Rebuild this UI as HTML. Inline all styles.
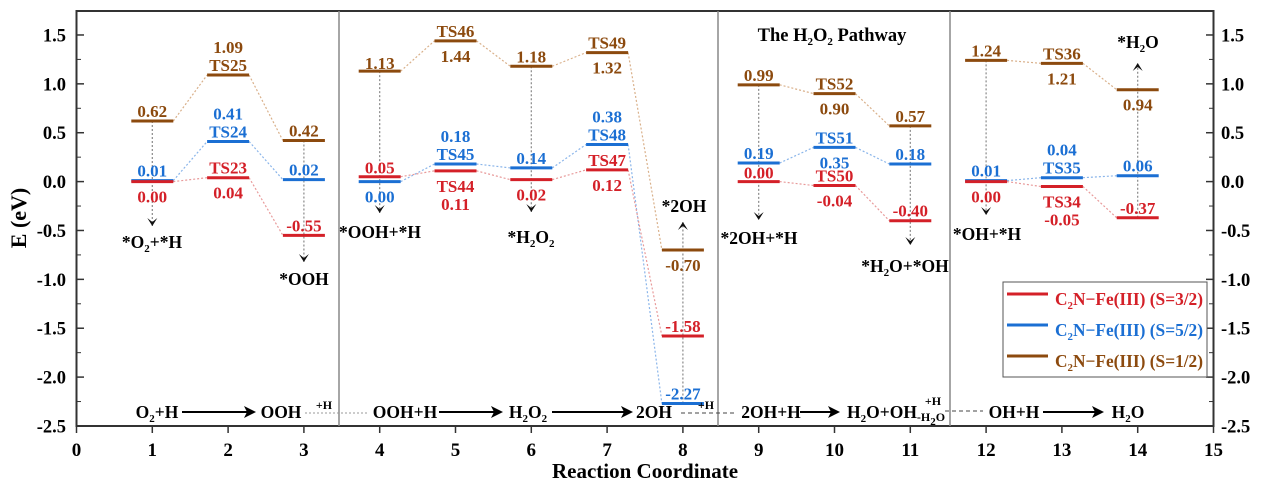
<!DOCTYPE html>
<html><head><meta charset="utf-8"><style>
html,body{margin:0;padding:0;background:#fff;width:1269px;height:490px;overflow:hidden}
svg{display:block;font-family:"Liberation Serif",serif;font-weight:bold}
</style></head><body>
<svg id="s" width="1269" height="490" xmlns="http://www.w3.org/2000/svg"></svg>
<script>
const S=document.getElementById('s');
let h='';
const X=c=>76.5+75.8*c, Y=v=>181.6-97.75*v;
const R='#d42028',B='#1b6fd3',N='#8c4a0e';
h+=`<rect x="76.5" y="11" width="1137" height="415" fill="none" stroke="#333" stroke-width="2"/>`;
[339,718,950].forEach(x=>h+=`<line x1="${x}" y1="11" x2="${x}" y2="426" stroke="#888" stroke-width="1.5"/>`);
for(let c=0;c<=15;c++){h+=`<line x1="${X(c)}" y1="426" x2="${X(c)}" y2="433" stroke="#333" stroke-width="1.5"/><text x="${X(c)}" y="456" font-size="19" text-anchor="middle">${c}</text>`;}
for(let i=0;i<=8;i++){const v=-2.5+0.5*i,y=Y(v);const t=(v<0?'-':'')+Math.abs(v).toFixed(1);
h+=`<line x1="76.5" y1="${y}" x2="84" y2="${y}" stroke="#333" stroke-width="1.5"/><line x1="1206" y1="${y}" x2="1213.5" y2="${y}" stroke="#333" stroke-width="1.5"/>`;
h+=`<text x="66" y="${y+6.5}" font-size="18.5" text-anchor="end">${t}</text><text x="1221" y="${y+6.5}" font-size="18.5">${t}</text>`;
if(i<8){const y2=Y(v+0.25);h+=`<line x1="76.5" y1="${y2}" x2="81" y2="${y2}" stroke="#333"/><line x1="1209" y1="${y2}" x2="1213.5" y2="${y2}" stroke="#333"/>`;}}
h+=`<text x="645" y="478" font-size="21" text-anchor="middle">Reaction Coordinate</text>`;
h+=`<text transform="translate(26,218) rotate(-90)" font-size="22" text-anchor="middle">E (eV)</text>`;
const data={
[R]:[0,0.04,-0.55,0.05,0.11,0.02,0.12,-1.58,0,-0.04,-0.40,0,-0.05,-0.37],
[B]:[0.01,0.41,0.02,0,0.18,0.14,0.38,-2.27,0.19,0.35,0.18,0.01,0.04,0.06],
[N]:[0.62,1.09,0.42,1.13,1.44,1.18,1.32,-0.70,0.99,0.90,0.57,1.24,1.21,0.94]};
const groups=[[1,3],[4,8],[9,11],[12,14]];
const lc={[R]:'#e89a9a',[B]:'#8ab5ea',[N]:'#d9b08a'};
for(const col of [N,B,R]){const d=data[col];
groups.forEach(([a,b])=>{for(let c=a;c<b;c++){h+=`<line x1="${X(c)+21}" y1="${Y(d[c-1])}" x2="${X(c+1)-21}" y2="${Y(d[c])}" stroke="${lc[col]}" stroke-width="1.2" stroke-dasharray="2,2"/>`;}});}
function va(c,y1,y2,dir){h+=`<line x1="${X(c)}" y1="${y1}" x2="${X(c)}" y2="${y2}" stroke="#888" stroke-width="1.2" stroke-dasharray="2,2"/>`;
const x=X(c);if(dir>0)h+=`<path d="M${x-5} ${y2-8} L${x} ${y2} L${x+5} ${y2-8} L${x} ${y2-4}Z" fill="#111"/>`;else h+=`<path d="M${x-5} ${y2+8} L${x} ${y2} L${x+5} ${y2+8} L${x} ${y2+4}Z" fill="#111"/>`;}
va(1,Y(0.62),226,1);va(3,Y(0.42),262,1);va(4,Y(1.13),213,1);va(6,Y(1.18),212,1);va(8,Y(-2.27),222,-1);
va(9,Y(0.99),220,1);va(11,Y(0.57),245,1);va(12,Y(1.24),215,1);va(14,Y(-0.37),63,-1);
for(const col of [N,B,R]){data[col].forEach((v,i)=>{const x=X(i+1);h+=`<line x1="${x-21}" y1="${Y(v)}" x2="${x+21}" y2="${Y(v)}" stroke="${col}" stroke-width="3"/>`;});}
const A=-4,Bw=21,A2=-22,B2=39;
const L=[
[1,N,'0.62',A],[1,B,'0.01',A],[1,R,'0.00',Bw],
[2,N,'1.09',A2],[2,N,'TS25',A],[2,B,'0.41',A2],[2,B,'TS24',A],[2,R,'TS23',A],[2,R,'0.04',Bw],
[3,N,'0.42',A],[3,B,'0.02',A],[3,R,'-0.55',A],
[4,N,'1.13',-2],[4,R,'0.05',-3],[4,B,'0.00',Bw],
[5,N,'TS46',A],[5,N,'1.44',Bw],[5,B,'0.18',A2],[5,B,'TS45',A],[5,R,'TS44',Bw],[5,R,'0.11',B2],
[6,N,'1.18',A],[6,B,'0.14',A],[6,R,'0.02',Bw],
[7,N,'TS49',A],[7,N,'1.32',Bw],[7,B,'0.38',A2],[7,B,'TS48',A],[7,R,'TS47',A],[7,R,'0.12',Bw],
[8,N,'-0.70',Bw],[8,R,'-1.58',A],[8,B,'-2.27',A],
[9,N,'0.99',A],[9,B,'0.19',A],[9,R,'0.00',-3],
[10,N,'TS52',A],[10,N,'0.90',Bw],[10,B,'TS51',A],[10,B,'0.35',Bw],[10,R,'TS50',A],[10,R,'-0.04',Bw],
[11,N,'0.57',A],[11,B,'0.18',A],[11,R,'-0.40',A],
[12,N,'1.24',A],[12,B,'0.01',A],[12,R,'0.00',Bw],
[13,N,'TS36',A],[13,N,'1.21',Bw],[13,B,'0.04',A2],[13,B,'TS35',A],[13,R,'TS34',Bw],[13,R,'-0.05',B2],
[14,N,'0.94',Bw],[14,B,'0.06',A],[14,R,'-0.37',A]];
L.forEach(([c,col,t,dy])=>{const i=data[col][c-1];h+=`<text x="${X(c)}" y="${Y(i)+dy}" font-size="17" fill="${col}" text-anchor="middle">${t}</text>`;});
const sub=s=>s.replace(/_(\d)/g,'<tspan font-size="11" dy="4">$1</tspan><tspan dy="-4">​</tspan>');
function T(x,y,s,sz=17.5,anc='middle'){h+=`<text x="${x}" y="${y}" font-size="${sz}" text-anchor="${anc}">${sub(s)}</text>`;}
T(152,248,'*O_2+*H');T(304,285,'*OOH');T(380,238,'*OOH+*H');T(531,243,'*H_2O_2');T(684,212,'*2OH');
T(759,244,'*2OH+*H');T(905,272,'*H_2O+*OH');T(987,240,'*OH+*H');T(1138,48,'*H_2O');
T(832,41,'The H_2O_2 Pathway',18.5);
const by=418;
function arr(x1,x2){h+=`<line x1="${x1}" y1="${by-6}" x2="${x2-8}" y2="${by-6}" stroke="#000" stroke-width="2"/><path d="M${x2-12} ${by-12} L${x2} ${by-6} L${x2-12} ${by} L${x2-9} ${by-6}Z" fill="#000"/>`;}
T(157,by,'O_2+H');arr(182,256);T(281,by,'OOH');T(324,409,'+H',12);
h+=`<line x1="305" y1="${by-5}" x2="368" y2="${by-5}" stroke="#999" stroke-dasharray="2,2"/>`;
T(405,by,'OOH+H');arr(439,503);T(528,by,'H_2O_2');arr(552,633);T(654,by,'2OH');
h+=`<line x1="681" y1="${by-5}" x2="736" y2="${by-5}" stroke="#444" stroke-dasharray="4,3"/>`;T(706,409,'+H',12);
T(771,by,'2OH+H');arr(800,840);T(882,by,'H_2O+OH');T(933,405,'+H',12);T(931,421,'-H_2O',12);
h+=`<line x1="945" y1="${by-7}" x2="983" y2="${by-7}" stroke="#444" stroke-dasharray="4,3"/>`;
T(1014,by,'OH+H');arr(1043,1104);T(1128,by,'H_2O');
h+=`<rect x="1003" y="282" width="204" height="95" fill="#fff" stroke="#555"/>`;
[[R,'3/2',305],[B,'5/2',336],[N,'1/2',367]].forEach(([c,s,y])=>{h+=`<line x1="1007" y1="${y-11}" x2="1048" y2="${y-11}" stroke="${c}" stroke-width="3"/><text x="1055" y="${y}" font-size="17.5" fill="${c}" textLength="148" lengthAdjust="spacingAndGlyphs">C<tspan font-size="11" dy="4">2</tspan><tspan dy="-4">N−Fe(III) (S=${s})</tspan></text>`;});
S.innerHTML=h;
</script>
</body></html>
